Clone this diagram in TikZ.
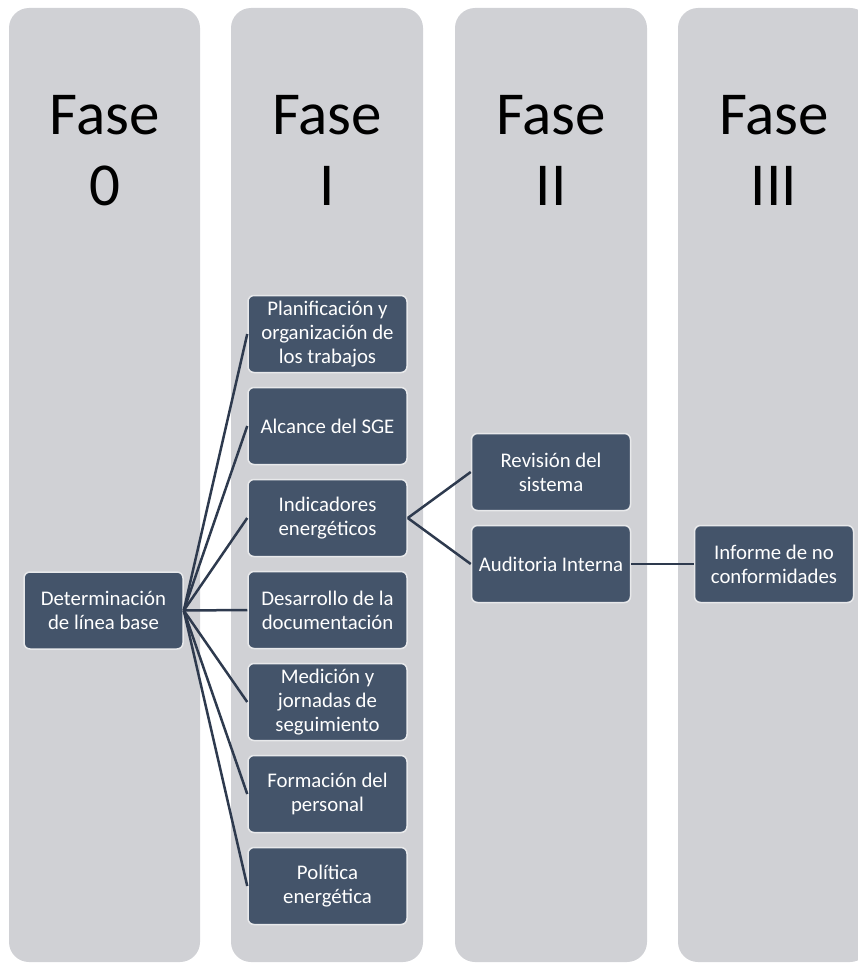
\documentclass[tikz,border=0pt]{standalone}
\usepackage{fontspec}
\setmainfont{Carlito}
\definecolor{colfill}{RGB}{208,209,213}
\definecolor{boxfill}{RGB}{68,84,106}
\definecolor{boxedge}{RGB}{232,233,235}
\definecolor{linkc}{RGB}{46,58,78}
\tikzset{
  column/.style={fill=colfill, draw=none, rounded corners=20pt},
  phasetitle/.style={anchor=base, font=\fontsize{61}{70}\selectfont, text=black, inner sep=0pt},
  stepbox/.style={rounded corners=6pt, fill=boxfill, draw=boxedge, line width=1.5pt,
    minimum width=159pt, minimum height=77pt, text=white, align=center, inner sep=0pt,
    font=\fontsize{20.8}{24}\selectfont},
  link/.style={draw=linkc, line width=2.5pt}
}
\begin{document}
\begin{tikzpicture}[x=1pt,y=-1pt]
\useasboundingbox (0,0) rectangle (858,963);
\clip (0,0) rectangle (858,963);
% columns
\path[column] (9,8) rectangle (200,962);
\path[column] (231,8) rectangle (423,962);
\path[column] (455,8) rectangle (647,962);
\path[column] (678,8) rectangle (870,962);
% titles
\node[phasetitle] (t0a) at (104.5,135) {Fase};
\node[phasetitle] (t0b) at (104.5,205) {0};
\node[phasetitle] (t1a) at (327,135) {Fase};
\node[phasetitle] (t1b) at (327,205) {I};
\node[phasetitle] (t2a) at (551,135) {Fase};
\node[phasetitle] (t2b) at (551,205) {II};
\node[phasetitle] (t3a) at (774,135) {Fase};
\node[phasetitle] (t3b) at (774,205) {III};
% boxes
\node[stepbox] (base) at (103.5,610.5) {Determinación\\de línea base};
\node[stepbox] (p1) at (327.5,334) {Planificación y\\organización de\\los trabajos};
\node[stepbox] (p2) at (327.5,426) {Alcance del SGE};
\node[stepbox] (p3) at (327.5,518) {Indicadores\\energéticos};
\node[stepbox] (p4) at (327.5,610) {Desarrollo de la\\documentación};
\node[stepbox] (p5) at (327.5,702) {Medición y\\jornadas de\\seguimiento};
\node[stepbox] (p6) at (327.5,794) {Formación del\\personal};
\node[stepbox] (p7) at (327.5,886) {Política\\energética};
\node[stepbox] (r1) at (551,472) {Revisión del\\sistema};
\node[stepbox] (r2) at (551,564) {Auditoria Interna};
\node[stepbox] (inf) at (774,564) {Informe de no\\conformidades};
% connectors
\foreach \n in {p1,p2,p3,p4,p5,p6,p7}{
  \draw[link] (base.east) -- (\n.west);
}
\draw[link] (p3.east) -- (r1.west);
\draw[link] (p3.east) -- (r2.west);
\draw[link] (r2.east) -- (inf.west);
\end{tikzpicture}
\end{document}
